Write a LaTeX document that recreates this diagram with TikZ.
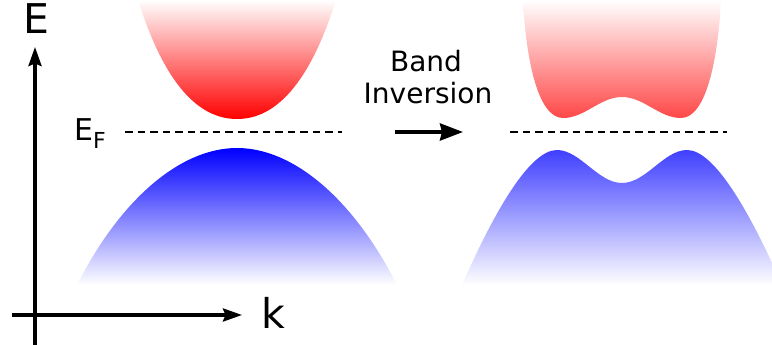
\documentclass[tikz,border=0pt]{standalone}
\usepackage{fontspec}
\setmainfont{DejaVu Sans}
\usetikzlibrary{arrows.meta}
\tikzset{
  axisline/.style={line width=3.4pt, -{Stealth[length=19pt, width=13pt, inset=2.5pt]}},
  bigarrow/.style={line width=3.6pt, -{Stealth[length=23pt, width=17pt, inset=2pt]}},
  fermi/.style={line width=2.4pt, dash pattern=on 7.5pt off 5pt},
  biglabel/.style={font=\fontsize{41}{41}\selectfont, inner sep=0pt, anchor=base},
  midlabel/.style={font=\fontsize{28}{32}\selectfont, inner sep=0pt, anchor=base},
}
\begin{document}
\begin{tikzpicture}[x=1pt, y=-1pt, line join=round]
\useasboundingbox (0,0) rectangle (772,345);
\begin{scope}
\clip (0,0) rectangle (772,345);
% left: conduction band
\shade[top color=white, bottom color=red]
  (138,0) .. controls (168,95) and (205,119) .. (237,119)
  .. controls (269,119) and (306,95) .. (336,0) -- cycle;
% left: valence band
\shade[top color=blue, bottom color=white]
  (77,285) .. controls (120,200) and (180,148) .. (237,148)
  .. controls (294,148) and (354,200) .. (397,285) -- cycle;
% right: inverted conduction band
\shade[top color=white, bottom color=red!72!white]
  (523,0) .. controls (526,60) and (538,118) .. (563,118)
  .. controls (585,118) and (600,97) .. (622,97)
  .. controls (644,97) and (659,118) .. (681,118)
  .. controls (706,118) and (718,60) .. (721,0) -- cycle;
% right: inverted valence band
\shade[top color=blue!75!white, bottom color=white]
  (462,285) .. controls (495,210) and (530,150) .. (557,150)
  .. controls (580,150) and (598,183) .. (622,183)
  .. controls (646,183) and (664,150) .. (687,150)
  .. controls (714,150) and (749,210) .. (782,285) -- cycle;
\end{scope}
% Fermi levels
\coordinate (f1a) at (125,132); \coordinate (f1b) at (342,132);
\coordinate (f2a) at (510,132); \coordinate (f2b) at (727,132);
\draw[fermi] (f1a) -- (f1b);
\draw[fermi] (f2a) -- (f2b);
% axes
\coordinate (yb) at (35,345); \coordinate (yt) at (35,47);
\coordinate (xl) at (12,315); \coordinate (xr) at (242,315);
\draw[axisline] (yb) -- (yt);
\draw[axisline] (xl) -- (xr);
\node[biglabel] (E) at (36,33.5) {E};
\node[biglabel] (k) at (273,328.5) {k};
\node[inner sep=0pt, anchor=base west] (EF) at (74,140)
  {\fontsize{30}{30}\selectfont E\raisebox{-9pt}{\fontsize{22}{22}\selectfont F}};
% band inversion arrow
\node[midlabel] (band) at (426,72) {Band};
\node[midlabel] (inv) at (428,104) {Inversion};
\coordinate (a1) at (395,132); \coordinate (a2) at (463,132);
\draw[bigarrow] (a1) -- (a2);
\end{tikzpicture}
\end{document}
